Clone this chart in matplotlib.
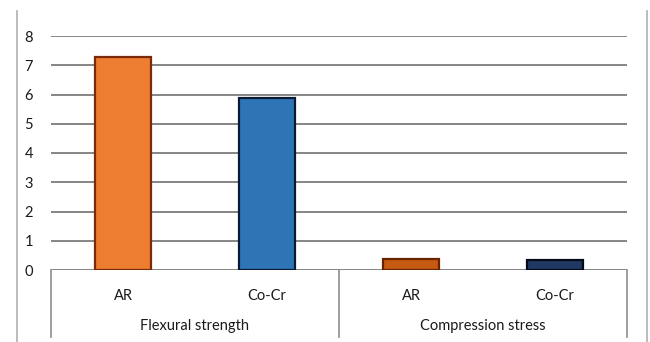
import matplotlib
matplotlib.use("Agg")
import matplotlib.pyplot as plt
from matplotlib.lines import Line2D
import matplotlib.transforms as mtransforms

# data
groups = ["Flexural strength", "Compression stress"]
materials = ["AR", "Co-Cr", "AR", "Co-Cr"]
values = [7.28, 5.88, 0.38, 0.33]
yticks = [0, 1, 2, 3, 4, 5, 6, 7, 8]

face = ["#ED7D31", "#2E75B6", "#C55A11", "#1F3864"]
edge = ["#7A2A08", "#0A1A33", "#6B2200", "#050A18"]

plt.rcParams["font.family"] = ["Lato", "DejaVu Sans"]

W, H = 650, 342
fig = plt.figure(figsize=(W / 100, H / 100), dpi=100)
ax = fig.add_axes([51 / W, (H - 270) / H, 576 / W, 234 / H])

x = list(range(len(values)))
ax.bar(x, values, width=0.39, color=face, edgecolor=edge, linewidth=1.6, zorder=3)

ax.set_xlim(-0.5, len(values) - 0.5)
ax.set_ylim(0, 8)
ax.set_yticks(yticks)
ax.yaxis.grid(True, color="#858585", linewidth=1.4, zorder=0)
ax.set_axisbelow(True)
for s in ax.spines.values():
    s.set_visible(False)
ax.tick_params(axis="y", length=0, pad=13, labelsize=10.5, colors="#1a1a1a")
ax.set_xticks(x)
ax.set_xticklabels(materials)
ax.tick_params(axis="x", length=0, pad=14, labelsize=10.5, colors="#1a1a1a")

# group labels and separators
tr = mtransforms.blended_transform_factory(ax.transData, ax.transAxes)
bottom = -(337 - 270) / 234
for b in [-0.5, 1.5, 3.5]:
    ax.add_line(Line2D([b, b], [0, bottom], transform=tr, color="#8c8c8c",
                       linewidth=1.2, clip_on=False))
for i, g in enumerate(groups):
    ax.text(2 * i + 0.5, -(326 - 270) / 234, g, transform=tr, ha="center",
            va="center", fontsize=10.5, color="#1a1a1a")

# outer chart frame (left/right edges)
for fx in [17 / W, 647 / W]:
    fig.add_artist(Line2D([fx, fx], [0, (H - 11) / H], color="#b0b0b0",
                          linewidth=1.2))

fig.savefig("out.png", dpi=100)
